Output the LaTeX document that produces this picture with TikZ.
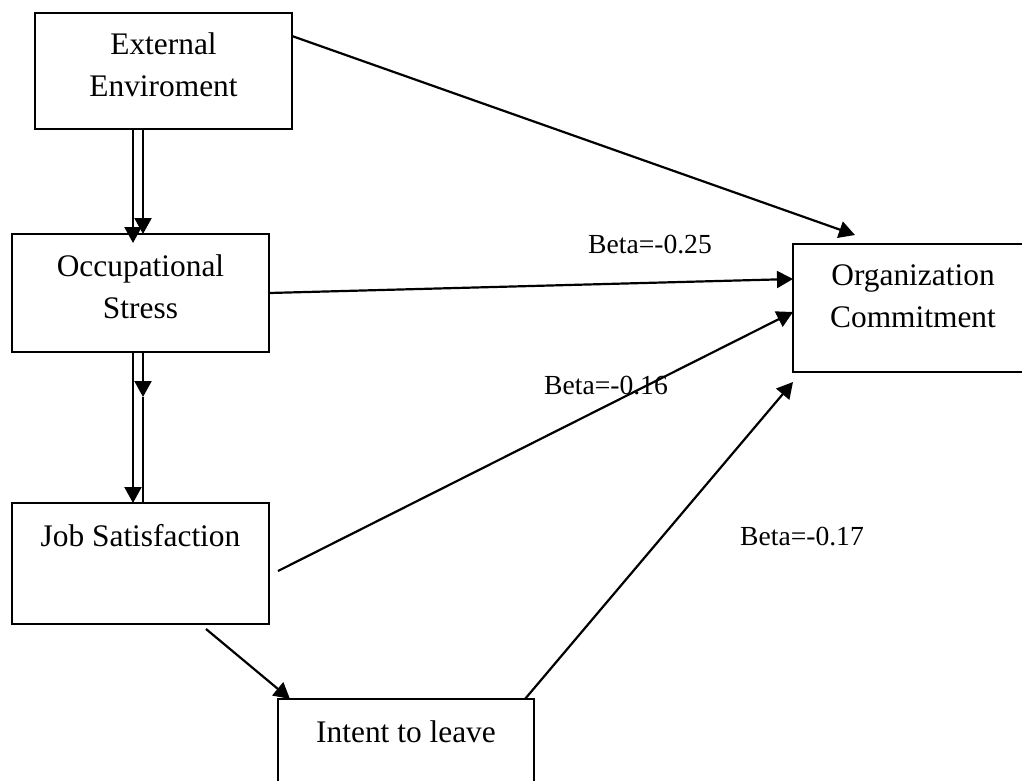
\documentclass[tikz,border=0pt]{standalone}
\usepackage{fontspec}
\setmainfont{Liberation Serif}
\usetikzlibrary{arrows.meta,positioning}

\tikzset{
  box/.style={draw, line width=2.4pt, outer sep=0pt, inner sep=0pt, minimum width=257pt},
  boxtext/.style={align=center, inner sep=0pt, font=\fontsize{31.4}{41.5}\selectfont},
  beta/.style={anchor=base, inner sep=0pt, font=\fontsize{27.6}{33}\selectfont},
  link/.style={draw, line width=2.2pt, -{Triangle[length=16pt,width=17pt]}}
}

\begin{document}
\begin{tikzpicture}[x=1pt, y=-1pt]
    \useasboundingbox (0,0) rectangle (1022,780);

    % boxes
    \node [box, minimum height=116pt] (ext) at (163.5,71) {};
    \node [box, minimum height=118pt] (occ) at (140.5,293) {};
    \node [box, minimum height=121pt] (job) at (140.5,563.5) {};
    \node [box, minimum width=256pt, minimum height=120pt] (intent) at (406,759) {};
    \node [box, minimum width=240pt, minimum height=128pt] (org) at (913,308) {};

    \node [boxtext, below=20pt of ext.north] (ext-t) {External\\Enviroment};
    \node [boxtext, below=21pt of occ.north] (occ-t) {Occupational\\Stress};
    \node [boxtext, below=21pt of job.north] (job-t) {Job Satisfaction};
    \node [boxtext, below=21pt of intent.north] (intent-t) {Intent to leave};
    \node [boxtext, below=21pt of org.north] (org-t) {Organization\\Commitment};

    % double links down the left
    \draw [link] ([xshift=-30.5pt]ext.south) -- ([xshift=-7.5pt,yshift=-9pt]occ.north);
    \draw [link] ([xshift=-20.5pt]ext.south) -- ([xshift=2.5pt]occ.north);
    \draw [link] ([xshift=-7.5pt]occ.south) -- ([xshift=-7.5pt]job.north);
    \coordinate (occ-mid) at ([xshift=2.5pt,yshift=-45pt]occ.south);
    \draw [link] ([xshift=2.5pt]occ.south) -- (occ-mid);
    \draw [line width=2.2pt] (occ-mid) -- ([xshift=2.5pt]job.north);

    % links to commitment
    \draw [link] ([yshift=-23pt]ext.north east) -- ([xshift=62pt,yshift=9pt]org.north west);
    \draw [link] (occ.east) -- ([yshift=29pt]org.west);
    \draw [link] ([xshift=9pt,yshift=-7.5pt]job.east) -- ([yshift=-4pt]org.west);
    \draw [link] ([xshift=65.5pt,yshift=-5pt]job.south) -- ([xshift=12pt]intent.north west);
    \draw [link] ([xshift=-9pt]intent.north east) -- ([yshift=-10pt]org.south west);

    \node [beta] (b25) at (650,253) {Beta=-0.25};
    \node [beta] (b16) at (606,394) {Beta=-0.16};
    \node [beta] (b17) at (802,545) {Beta=-0.17};
\end{tikzpicture}
\end{document}
